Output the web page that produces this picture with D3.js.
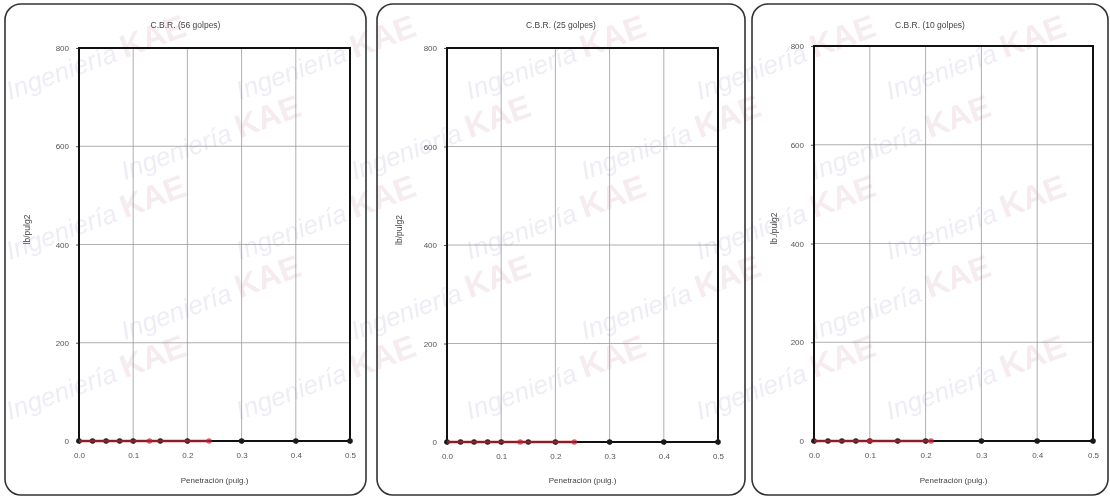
<!DOCTYPE html>
<html><head><meta charset="utf-8">
<script src="https://cdn.jsdelivr.net/npm/d3@7"></script>
<style>body{margin:0;background:#fff}svg{display:block}text{font-family:"Liberation Sans",Arial,sans-serif}</style>
</head><body><svg id="c" width="1110" height="499"></svg>
<script>
// ---- data ----
const titles = ["C.B.R. (56 golpes)", "C.B.R. (25 golpes)", "C.B.R. (10 golpes)"];
const yTitles = ["lb/pulg2", "lb/pulg2", "lb./pulg2"];
const xTitles = ["Penetración (pulg.)", "Penetración (pulg.)", "Penetración (pulg.)"];
const xTicks = [0, 0.1, 0.2, 0.3, 0.4, 0.5];
const yTicks = [0, 200, 400, 600, 800];
const penetration = [0, 0.025, 0.05, 0.075, 0.1, 0.15, 0.2, 0.3, 0.4, 0.5];
const load56 = [0, 0, 0, 0, 0, 0, 0, 0, 0, 0];
const load25 = [0, 0, 0, 0, 0, 0, 0, 0, 0, 0];
const load10 = [0, 0, 0, 0, 0, 0, 0, 0, 0, 0];
const corrX56 = [0, 0.13, 0.24];
const corrY56 = [0, 0, 0];
const corrX25 = [0, 0.135, 0.235];
const corrY25 = [0, 0, 0];
const corrX10 = [0, 0.1, 0.21];
const corrY10 = [0, 0, 0];

const loads = [load56, load25, load10];
const corrX = [corrX56, corrX25, corrX10];
const corrY = [corrY56, corrY25, corrY10];

// ---- layout ----
const frames = [
  {bx:5, bw:361, px:79, pw:271, py:48, ph:393},
  {bx:377, bw:368, px:447, pw:271, py:48, ph:394},
  {bx:752, bw:356, px:814, pw:279, py:46, ph:395}
];
const svg = d3.select("#c");

// faint watermark (behind), only whole tiles inside the canvas
const wm = svg.append("g").attr("opacity", 0.4);
const wmPos = [];
for (let r = 0; r < 6; r++) {
  for (let c = 0; c < 6; c++) {
    const x = c * 230 + (r % 2) * 115 + 10;
    const y = r * 80 + 100;
    if (x + 210 < 1105 && y < 495 && y > 90) wmPos.push([x, y]);
  }
  const y = r * 80 + 100;
  if (r % 2 === 0 && y < 495) wmPos.push([890, y]);
}
wmPos.forEach(([x, y]) => {
  const g = wm.append("g").attr("transform", `translate(${x},${y}) rotate(-20)`);
  g.append("text").text("Ingeniería").attr("x", 0).attr("y", 0)
    .attr("font-size", 26).attr("font-style", "italic").attr("fill", "#d8d0e6");
  g.append("text").text("KAE").attr("x", 122).attr("y", 0)
    .attr("font-size", 32).attr("font-weight", "bold").attr("fill", "#e8cdd6");
});

frames.forEach((f, i) => {
  svg.append("rect").attr("x", f.bx).attr("y", 4).attr("width", f.bw).attr("height", 491)
    .attr("rx", 16).attr("fill", "none").attr("stroke", "#333").attr("stroke-width", 1.6);

  const x = d3.scaleLinear().domain([0, 0.5]).range([f.px, f.px + f.pw]);
  const y = d3.scaleLinear().domain([0, 800]).range([f.py + f.ph, f.py]);
  const g = svg.append("g");

  // grid
  g.selectAll(".gx").data(xTicks.slice(1, -1)).join("line")
    .attr("x1", d => x(d)).attr("x2", d => x(d)).attr("y1", f.py).attr("y2", f.py + f.ph)
    .attr("stroke", "#9a9a9a").attr("stroke-width", 0.8);
  g.selectAll(".gy").data(yTicks.slice(1, -1)).join("line")
    .attr("x1", f.px).attr("x2", f.px + f.pw).attr("y1", d => y(d)).attr("y2", d => y(d))
    .attr("stroke", "#9a9a9a").attr("stroke-width", 0.8);

  // axes
  const ax = g.append("g").attr("transform", `translate(0,${f.py + f.ph})`)
    .call(d3.axisBottom(x).tickValues(xTicks).tickFormat(d3.format(".1f")).tickSize(3).tickPadding(8));
  const ay = g.append("g").attr("transform", `translate(${f.px},0)`)
    .call(d3.axisLeft(y).tickValues(yTicks).tickFormat(d3.format("d")).tickSize(3).tickPadding(7));
  [ax, ay].forEach(a => {
    a.select(".domain").remove();
    a.selectAll(".tick line").attr("stroke", "#555");
    a.selectAll(".tick text").attr("fill", "#555").attr("font-size", 8)
      .attr("font-family", "Liberation Sans, Arial, sans-serif");
  });

  // plot frame
  g.append("rect").attr("x", f.px).attr("y", f.py).attr("width", f.pw).attr("height", f.ph)
    .attr("fill", "none").attr("stroke", "#111").attr("stroke-width", 2);

  // titles
  g.append("text").text(titles[i]).attr("x", f.bx + f.bw / 2).attr("y", 28)
    .attr("text-anchor", "middle").attr("font-size", 8.5).attr("fill", "#444");
  g.append("text").text(xTitles[i]).attr("x", f.px + f.pw / 2).attr("y", 483)
    .attr("text-anchor", "middle").attr("font-size", 8).attr("fill", "#444");
  g.append("text").text(yTitles[i])
    .attr("transform", `translate(${f.bx + 25},${f.py + f.ph / 2 - 15}) rotate(-90)`)
    .attr("text-anchor", "middle").attr("font-size", 8.5).attr("fill", "#444");

  // black measured series
  const pts = penetration.map((p, k) => [p, loads[i][k]]);
  const line = d3.line().x(d => x(d[0])).y(d => y(d[1]));
  g.append("path").attr("d", line(pts)).attr("fill", "none").attr("stroke", "#111").attr("stroke-width", 1.6);
  g.selectAll(".pk").data(pts).join("circle")
    .attr("cx", d => x(d[0])).attr("cy", d => y(d[1])).attr("r", 2.8).attr("fill", "#1a1a1a");

  // red corrected series
  const cp = corrX[i].map((p, k) => [p, corrY[i][k]]);
  g.append("path").attr("d", line(cp)).attr("fill", "none").attr("stroke", "#e0303a")
    .attr("stroke-opacity", 0.55).attr("stroke-width", 3);
  g.selectAll(".pr").data(cp.slice(1)).join("circle")
    .attr("cx", d => x(d[0])).attr("cy", d => y(d[1])).attr("r", 2.8)
    .attr("fill", "#c02030").attr("fill-opacity", 0.7);
});
</script></body></html>
